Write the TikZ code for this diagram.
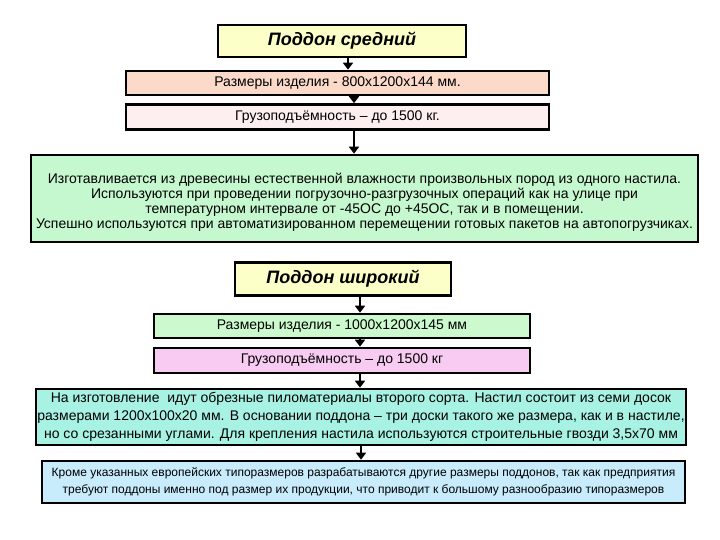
\documentclass[tikz,border=0pt]{standalone}
\usepackage{fontspec}
\setmainfont{Liberation Sans}
\usepackage{tikz}
\usetikzlibrary{arrows.meta}
\usepackage{xcolor}

\definecolor{titleyellow}{HTML}{FCFFC8}
\definecolor{peach}{HTML}{FCDACA}
\definecolor{palepink}{HTML}{FDEFEF}
\definecolor{mint}{HTML}{C6F8D0}
\definecolor{palegreen}{HTML}{CCFACE}
\definecolor{lilac}{HTML}{F8CCF2}
\definecolor{aqua}{HTML}{A8F2E4}
\definecolor{skyblue}{HTML}{C8ECFC}

\begin{document}
\begin{tikzpicture}[x=1pt, y=-1pt,
        box/.style={draw=black, line width=2.6pt, inner sep=0pt, align=center,
            font={\fontsize{14}{16}\selectfont}},
        titlebox/.style={box, fill=titleyellow, font={\fontsize{18}{20}\selectfont\bfseries\itshape}},
        arr/.style={line width=2.6pt, -{Triangle[length=7pt, width=10pt]}}]
        \useasboundingbox (0,0) rectangle (720,540);
        % Поддон средний
        \node[titlebox, minimum width=248pt, minimum height=32pt] (sred) at (342,41) {Поддон средний};
        \node[box, fill=peach, minimum width=423pt, minimum height=24pt] (razm1) at (337.5,83) {Размеры изделия - 800х1200х144 мм.};
        \node[box, fill=palepink, minimum width=423pt, minimum height=25pt] (gruz1) at (337.5,117) {Грузоподъёмность -- до 1500 кг.};
        \node[box, fill=mint, minimum width=667pt, minimum height=87pt, font={\fontsize{14}{15.2}\selectfont}] (opis1) at (364.5,198.5)
            {\mbox{}\\[3pt]
             Изготавливается из древесины естественной влажности произвольных пород из одного настила.\\
             Используются при проведении погрузочно-разгрузочных операций как на улице при\\
             температурном интервале от -45ОС до +45ОС, так и в помещении.\\
             Успешно используются при автоматизированном перемещении готовых пакетов на автопогрузчиках.};
        \coordinate (c1) at (348,0);
        \coordinate (c2) at (354,0);
        \draw[arr] (sred.south -| c1) -- (razm1.north -| c1);
        \draw[arr] (razm1.south -| c2) -- (gruz1.north -| c2);
        \draw[arr] (gruz1.south -| c2) -- (opis1.north -| c2);
        % Поддон широкий
        \node[titlebox, minimum width=216pt, minimum height=33pt] (shir) at (343,279) {Поддон широкий};
        \node[box, fill=palegreen, minimum width=376pt, minimum height=24pt] (razm2) at (342,326) {Размеры изделия - 1000х1200х145 мм};
        \node[box, fill=lilac, minimum width=376pt, minimum height=25pt] (gruz2) at (342,360.5) {Грузоподъёмность -- до 1500 кг};
        \node[box, fill=aqua, minimum width=650pt, minimum height=56pt, font={\fontsize{14}{18}\selectfont}] (opis2) at (361,417)
            {На изготовление\ \ идут обрезные пиломатериалы второго сорта. Настил состоит из семи досок\\
             размерами 1200х100х20 мм. В основании поддона -- три доски такого же размера, как и в настиле,\\
             но со срезанными углами. Для крепления настила используются строительные гвозди 3,5х70 мм};
        \node[box, fill=skyblue, minimum width=643pt, minimum height=42pt, font={\fontsize{12}{17}\selectfont}] (krome) at (363.5,482)
            {Кроме указанных европейских типоразмеров разрабатываются другие размеры поддонов, так как предприятия\\
             требуют поддоны именно под размер их продукции, что приводит к большому разнообразию типоразмеров};
        \coordinate (c3) at (360,0);
        \coordinate (c4) at (361,0);
        \draw[arr] (shir.south -| c3) -- (razm2.north -| c3);
        \draw[arr] (razm2.south -| c3) -- (gruz2.north -| c3);
        \draw[arr] (gruz2.south -| c3) -- (opis2.north -| c3);
        \draw[arr] (opis2.south -| c4) -- (krome.north -| c4);
\end{tikzpicture}
\end{document}
